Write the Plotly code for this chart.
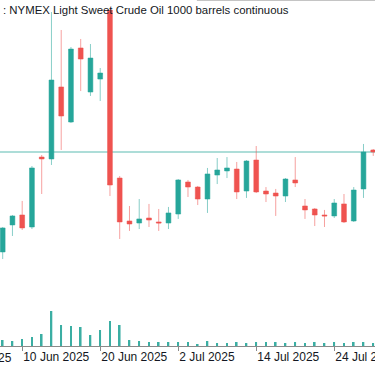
import plotly.graph_objects as go

dates = ["2025-06-06", "2025-06-09", "2025-06-10", "2025-06-11", "2025-06-12", "2025-06-13",
         "2025-06-16", "2025-06-17", "2025-06-18", "2025-06-19", "2025-06-20",
         "2025-06-23", "2025-06-24", "2025-06-25", "2025-06-26", "2025-06-27",
         "2025-06-30", "2025-07-01", "2025-07-02", "2025-07-03", "2025-07-04",
         "2025-07-07", "2025-07-08", "2025-07-09", "2025-07-10", "2025-07-11",
         "2025-07-14", "2025-07-15", "2025-07-16", "2025-07-17", "2025-07-18",
         "2025-07-21", "2025-07-22", "2025-07-23", "2025-07-24", "2025-07-25",
         "2025-07-28", "2025-07-29", "2025-07-30"]

open_ = [61.67, 63.92, 64.75, 63.75, 69.58, 69.42,
         75.42, 72.50, 78.67, 75.00, 76.08,
         81.83, 67.83, 64.25, 64.08, 64.50,
         64.17, 64.08, 64.83, 67.50, 67.08,
         66.08, 68.08, 68.42, 68.58, 66.75,
         69.33, 66.75, 66.58, 66.33, 67.67,
         65.50, 65.25, 64.75, 64.67, 65.67,
         64.25, 66.92, 70.17]
high = [63.75, 64.75, 65.92, 68.83, 69.75, 81.67,
        80.17, 78.75, 79.42, 79.00, 77.00,
        81.83, 68.00, 65.50, 66.08, 65.67,
        65.25, 65.42, 67.75, 67.67, 67.17,
        68.67, 69.50, 69.58, 69.17, 69.33,
        70.50, 67.08, 66.92, 67.83, 69.58,
        66.08, 65.33, 65.17, 66.08, 66.50,
        67.08, 70.67, 70.25]
low = [61.08, 63.00, 63.50, 63.58, 66.50, 68.92,
       70.17, 72.42, 75.08, 74.67, 74.25,
       66.33, 62.75, 63.42, 63.58, 63.75,
       63.42, 63.58, 64.42, 66.25, 65.58,
       64.92, 67.33, 67.83, 66.08, 66.17,
       66.58, 65.83, 64.67, 65.83, 67.08,
       64.42, 63.83, 63.75, 64.50, 64.08,
       64.17, 66.17, 69.67]
close = [63.67, 64.67, 63.67, 68.67, 69.42, 76.00,
         73.00, 78.58, 77.75, 77.83, 76.58,
         67.25, 64.17, 64.00, 64.42, 64.33,
         64.08, 64.92, 67.67, 67.08, 66.08,
         68.17, 68.50, 68.67, 66.67, 69.25,
         66.67, 66.50, 66.33, 67.75, 67.42,
         65.17, 64.75, 64.67, 65.75, 64.17,
         66.83, 70.00, 70.00]
volume_k = [90, 75, 105, 135, 180, 525,
            315, 300, 285, 165, 240,
            375, 315, 90, 75, 60,
            60, 60, 60, 60, 30,
            75, 45, 45, 60, 45,
            60, 60, 60, 45, 60,
            45, 60, 45, 60, 45,
            60, 60, 45]

tick_dates = ["2025-06-10", "2025-06-20", "2025-07-02", "2025-07-14", "2025-07-24"]
tick_labels = ["10 Jun 2025", "20 Jun 2025", "2 Jul 2025", "14 Jul 2025", "24 Jul 2025"]
title_text = ": NYMEX Light Sweet Crude Oil 1000 barrels continuous"
last_price = close[-1]

GREEN = "#26a69a"
RED = "#ef5350"
FONT = "Liberation Sans"

fig = go.Figure()
fig.add_trace(go.Bar(
    x=dates, y=volume_k, yaxis="y2", width=0.17,
    marker=dict(color=GREEN, line=dict(width=0)), opacity=0.9,
    hoverinfo="skip", showlegend=False))
fig.add_trace(go.Candlestick(
    x=dates, open=open_, high=high, low=low, close=close,
    increasing=dict(fillcolor=GREEN, line=dict(color="rgba(38,166,154,0.55)", width=1)),
    decreasing=dict(fillcolor=RED, line=dict(color="rgba(239,83,80,0.55)", width=1)),
    whiskerwidth=0, showlegend=False))

fig.add_shape(type="line", xref="paper", x0=0, x1=1, yref="y", y0=last_price, y1=last_price,
              line=dict(color="rgba(38,166,154,0.5)", width=1.6), layer="below")
fig.add_shape(type="line", xref="paper", x0=0.525, x1=1, yref="paper", y0=1, y1=1,
              line=dict(color="#8a8a8a", width=1.2))

fig.add_annotation(text=title_text, xref="paper", yref="paper", x=0.003, y=1.0,
                   xanchor="left", yanchor="top", showarrow=False,
                   font=dict(family=FONT, size=11.4, color="#131722"), yshift=-2)
fig.add_annotation(text="29 May 2025", xref="paper", yref="paper", x=-0.159, y=0,
                   xanchor="left", yanchor="top", showarrow=False, yshift=-3,
                   font=dict(family=FONT, size=12, color="#131722"))

fig.update_layout(
    width=375, height=366,
    margin=dict(l=0, r=0, t=0, b=20, autoexpand=False),
    paper_bgcolor="white", plot_bgcolor="white",
    boxgap=0.3,
    xaxis=dict(type="category", range=[-0.277, 38.18], rangeslider=dict(visible=False),
               automargin=False,
               showgrid=False, zeroline=False, showline=True, linecolor="#8a8a8a", linewidth=1,
               ticks="outside", ticklen=4, tickcolor="#8a8a8a", tickwidth=1,
               tickvals=tick_dates, ticktext=tick_labels, ticklabelposition="outside right",
               tickangle=0,
               tickfont=dict(family=FONT, size=12, color="#131722")),
    yaxis=dict(range=[53.83, 82.67], visible=False, showgrid=False, zeroline=False),
    yaxis2=dict(range=[0, 5190], overlaying="y", visible=False, showgrid=False, zeroline=False),
)

fig.write_html("out.html", config={"displayModeBar": False},
               post_script="document.body.style.margin='0';")
